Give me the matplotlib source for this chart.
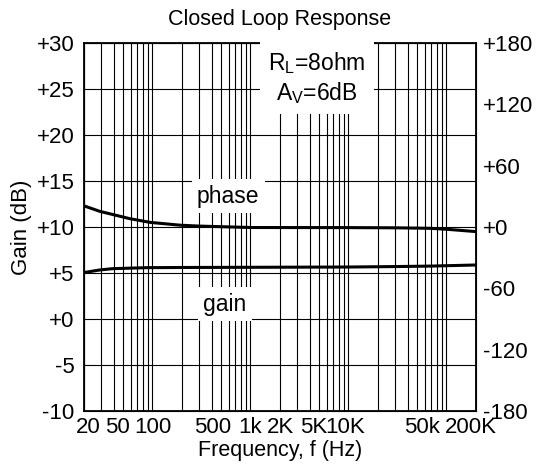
import matplotlib
matplotlib.use('Agg')
import matplotlib.pyplot as plt
import matplotlib.transforms as mtransforms
import numpy as np

plt.rcParams['font.family'] = ['Liberation Sans', 'DejaVu Sans']
plt.rcParams['mathtext.fontset'] = 'custom'
plt.rcParams['mathtext.rm'] = 'Liberation Sans'

# gain curve, left axis (dB)
gain_f = [20, 29, 39, 88, 200, 1000, 10000, 30000, 68000, 200000]
gain_db = [5.05, 5.33, 5.47, 5.58, 5.60, 5.62, 5.65, 5.70, 5.75, 5.87]

# phase curve, right axis (degrees)
phase_f = [20, 29, 59, 95, 190, 300, 1000, 10000, 30000, 68000, 100000, 200000]
phase_deg = [20.7, 15.3, 8.1, 4.5, 1.8, 0.9, -0.5, -0.6, -0.8, -1.3, -2.2, -4.5]

left_ticks = [-10, -5, 0, 5, 10, 15, 20, 25, 30]
left_labels = ['-10', '-5', '+0', '+5', '+10', '+15', '+20', '+25', '+30']
right_ticks = [-180, -120, -60, 0, 60, 120, 180]
right_labels = ['-180', '-120', '-60', '+0', '+60', '+120', '+180']
x_labelled = {20: '20', 50: '50', 100: '100', 500: '500', 1000: '1k', 2000: '2K',
              5000: '5K', 10000: '10K', 50000: '50k', 200000: '200K'}
# small horizontal nudges (px) so crowded labels sit like the original
x_nudge = {20: 4, 50: -6, 500: -8, 5000: -5, 10000: -3, 50000: 5, 200000: -5}

grid_f = [m * 10 ** d for d in range(1, 6) for m in range(1, 10)]
grid_f = [f for f in grid_f if 20 <= f <= 200000]

fig = plt.figure(figsize=(5.4, 4.68), dpi=100)
ax = fig.add_axes([84 / 540, 1 - 411 / 468, 392 / 540, 368 / 468])
ax.set_xscale('log')
ax.set_xlim(20, 200000)
ax.set_ylim(-10, 30)

ax.set_xticks(grid_f, [x_labelled.get(f, '') for f in grid_f])
ax.xaxis.set_minor_locator(matplotlib.ticker.NullLocator())
ax.set_yticks(left_ticks, left_labels)
ax.grid(True, color='black', lw=0.8)
ax.tick_params(length=0, labelsize=16)
ax.tick_params(axis='y', pad=7)
ax.tick_params(axis='x', pad=4)
for s in ax.spines.values():
    s.set_linewidth(1.3)

for f, lab in zip(grid_f, ax.get_xticklabels()):
    if f in x_nudge:
        lab.set_transform(lab.get_transform() +
                          mtransforms.ScaledTranslation(x_nudge[f] / 100, 0, fig.dpi_scale_trans))

ax.plot(gain_f, gain_db, color='black', lw=2.2)

ax2 = ax.twinx()
ax2.set_ylim(-180, 180)
ax2.set_yticks(right_ticks, right_labels)
ax2.tick_params(length=0, labelsize=16, pad=5)
ax2.plot(phase_f, phase_deg, color='black', lw=2.2)

box = dict(fc='white', ec='none', pad=4)
ax2.text(0.368, 0.584, 'phase', transform=ax2.transAxes, ha='center', va='center',
         fontsize=16.5, bbox=box)
ax2.text(0.36, 0.29, 'gain', transform=ax2.transAxes, ha='center', va='center',
         fontsize=16.5, bbox=box)
ax2.text(0.594, 0.905, 'R$\\mathregular{_L}$=8ohm\nA$\\mathregular{_V}$=6dB',
         transform=ax2.transAxes, ha='center', va='center', fontsize=16.5,
         linespacing=1.2, bbox=dict(fc='white', ec='none', pad=6))

ax.set_title('Closed Loop Response', fontsize=15.5, pad=13)
ax.set_xlabel('Frequency, f (Hz)', fontsize=15.5, labelpad=2)
ax.set_ylabel('Gain (dB)', fontsize=16)
ax.yaxis.set_label_coords(-0.133, 0.5)

fig.savefig('out.png', dpi=100)
